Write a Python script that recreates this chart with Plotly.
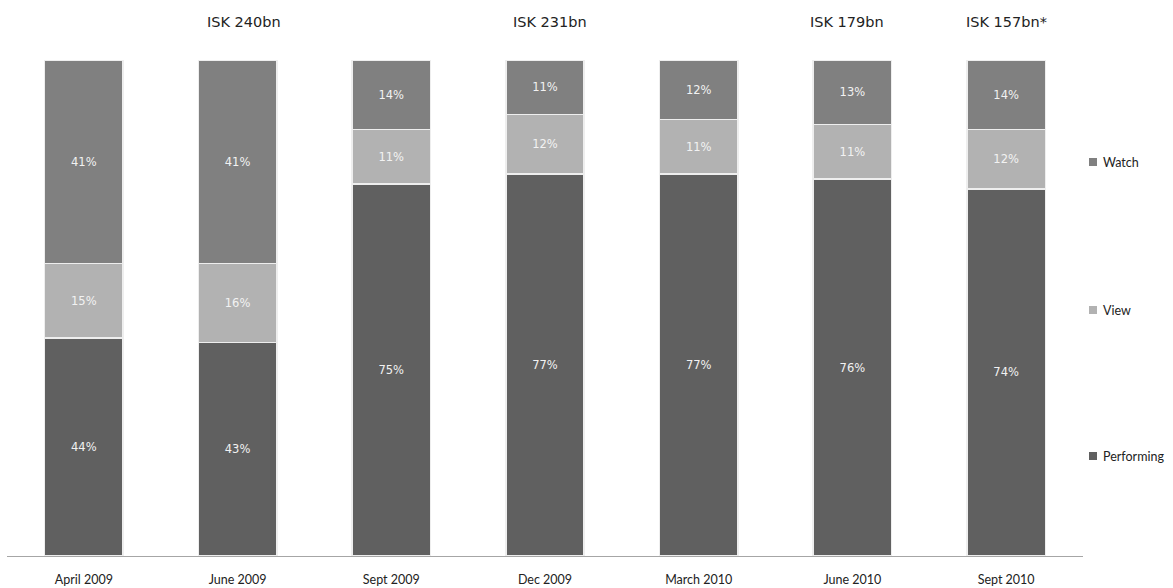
import plotly.graph_objects as go

categories = ["April 2009", "June 2009", "Sept 2009", "Dec 2009", "March 2010", "June 2010", "Sept 2010"]
performing = [44, 43, 75, 77, 77, 76, 74]
view = [15, 16, 11, 12, 11, 11, 12]
watch = [41, 41, 14, 11, 12, 13, 14]
totals_cats = ["June 2009", "Dec 2009", "June 2010", "Sept 2010"]
totals_text = ["ISK 240bn", "ISK 231bn", "ISK 179bn", "ISK 157bn*"]
totals_shift = [6, 5, -5, 0]

series = [
    ("Performing", performing, "#606060"),
    ("View", view, "#b2b2b2"),
    ("Watch", watch, "#808080"),
]

W, H = 1173, 588
L, R, T, B = 7, 90, 60, 32
pw = W - L - R
ph = H - T - B

fig = go.Figure()
for name, vals, col in series:
    fig.add_trace(go.Bar(
        x=categories, y=vals, name=name,
        marker=dict(color=col, line=dict(color="#eeeeee", width=1.5)),
        texttemplate="%{y:.0f}%", textposition="inside",
        insidetextanchor="middle", textangle=0, constraintext="none",
        textfont=dict(family="DejaVu Sans", size=11.5, color="#f2f2f2"),
        showlegend=False,
    ))

annotations = []
for c, t, s in zip(totals_cats, totals_text, totals_shift):
    annotations.append(dict(
        x=c, xref="x", y=(H - B - 22) / ph, yref="paper", xshift=s,
        text=t, showarrow=False, xanchor="center", yanchor="middle",
        font=dict(family="DejaVu Sans", size=14.5, color="#222222"),
    ))

shapes = []
legend_y = {"Watch": 162, "View": 310, "Performing": 456}
for name, vals, col in series:
    py = legend_y[name]
    x0 = (1089 - L) / pw
    x1 = (1097 - L) / pw
    y0 = (H - B - (py + 4)) / ph
    y1 = (H - B - (py - 4)) / ph
    shapes.append(dict(type="rect", xref="paper", yref="paper",
                       x0=x0, x1=x1, y0=y0, y1=y1,
                       fillcolor=col, line=dict(width=0)))
    annotations.append(dict(
        x=(1101 - L) / pw, xref="paper", y=(H - B - py) / ph, yref="paper",
        text=name, showarrow=False, xanchor="left", yanchor="middle",
        font=dict(family="Lato", size=12.5, color="#222222"),
    ))

fig.update_layout(
    barmode="stack",
    bargap=0.49,
    width=W, height=H,
    margin=dict(l=L, r=R, t=T, b=B, autoexpand=False),
    plot_bgcolor="white", paper_bgcolor="white",
    xaxis=dict(showline=True, linecolor="#a6a6a6", linewidth=1,
               showgrid=False, ticks="", ticklabelstandoff=12, automargin=False,
               tickfont=dict(family="Lato", size=12.5, color="#222222")),
    yaxis=dict(range=[0, 100], visible=False, showgrid=False, automargin=False),
    annotations=annotations,
    shapes=shapes,
    uniformtext=dict(minsize=8, mode="show"),
)

fig.write_html("out.html", config={"displayModeBar": False},
               post_script="document.body.style.margin='0';document.body.style.overflow='hidden';")
